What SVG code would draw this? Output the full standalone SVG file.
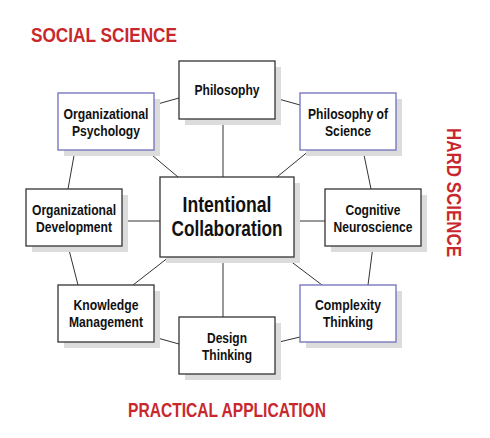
<svg xmlns="http://www.w3.org/2000/svg" width="490" height="438" viewBox="0 0 490 438">
<style>
.shadow{fill:#dcdcdc;stroke:none}
.box{fill:#ffffff;stroke:#333333;stroke-width:1.3}
.blue{fill:#ffffff;stroke:#7878c0;stroke-width:1.4}
.lbl{font-family:"Liberation Sans",Arial,sans-serif;font-weight:bold;font-size:15px;fill:#111111;text-anchor:middle}
.big{font-family:"Liberation Sans",Arial,sans-serif;font-weight:bold;font-size:22px;fill:#111111;text-anchor:middle}
.head{font-family:"Liberation Sans",Arial,sans-serif;font-weight:bold;font-size:21px;fill:#c8282d}
.conn line{stroke:#333333;stroke-width:1}
</style>
<rect width="490" height="438" fill="#ffffff"/>
<g id="connectors" class="conn">
<line x1="223" y1="119" x2="223" y2="177"/>
<line x1="223" y1="257" x2="223" y2="317"/>
<line x1="154" y1="105" x2="179" y2="98"/>
<line x1="275" y1="98" x2="300" y2="105"/>
<line x1="363" y1="150" x2="371" y2="189"/>
<line x1="310" y1="150" x2="277" y2="177"/>
<line x1="75" y1="150" x2="68" y2="189"/>
<line x1="146" y1="150" x2="178" y2="177"/>
<line x1="122" y1="221" x2="160" y2="221"/>
<line x1="294" y1="221" x2="325" y2="221"/>
<line x1="68" y1="246" x2="78" y2="285"/>
<line x1="169" y1="257" x2="133" y2="285"/>
<line x1="154" y1="337" x2="179" y2="344"/>
<line x1="373" y1="246" x2="368" y2="285"/>
<line x1="285" y1="257" x2="322" y2="285"/>
<line x1="275" y1="343" x2="300" y2="337"/>
</g>
<g id="center">
<rect class="shadow" x="166" y="183" width="134" height="80"/>
<rect class="box" x="160" y="177" width="134" height="80" stroke-width="1.5"/>
<text class="big" x="227" y="212" textLength="89" lengthAdjust="spacingAndGlyphs">Intentional</text>
<text class="big" x="227" y="236" textLength="111" lengthAdjust="spacingAndGlyphs">Collaboration</text>
</g>
<g id="philosophy">
<rect class="shadow" x="185" y="67" width="96" height="58"/>
<rect class="box" x="179" y="61" width="96" height="58"/>
<text class="lbl" x="227" y="95" textLength="65" lengthAdjust="spacingAndGlyphs">Philosophy</text>
</g>
<g id="org-psychology">
<rect class="shadow" x="64" y="99" width="96" height="57"/>
<rect class="blue" x="58" y="93" width="96" height="57"/>
<text class="lbl" x="106" y="119" textLength="85" lengthAdjust="spacingAndGlyphs">Organizational</text>
<text class="lbl" x="106" y="136" textLength="68" lengthAdjust="spacingAndGlyphs">Psychology</text>
</g>
<g id="philosophy-of-science">
<rect class="shadow" x="306" y="99" width="96" height="57"/>
<rect class="blue" x="300" y="93" width="96" height="57"/>
<text class="lbl" x="348" y="119" textLength="80" lengthAdjust="spacingAndGlyphs">Philosophy of</text>
<text class="lbl" x="348" y="136" textLength="46" lengthAdjust="spacingAndGlyphs">Science</text>
</g>
<g id="org-development">
<rect class="shadow" x="32" y="195" width="96" height="57"/>
<rect class="box" x="26" y="189" width="96" height="57"/>
<text class="lbl" x="74" y="215" textLength="84" lengthAdjust="spacingAndGlyphs">Organizational</text>
<text class="lbl" x="74" y="232" textLength="76" lengthAdjust="spacingAndGlyphs">Development</text>
</g>
<g id="cognitive-neuroscience">
<rect class="shadow" x="331" y="195" width="96" height="57"/>
<rect class="box" x="325" y="189" width="96" height="57"/>
<text class="lbl" x="373" y="215" textLength="55" lengthAdjust="spacingAndGlyphs">Cognitive</text>
<text class="lbl" x="373" y="232" textLength="79" lengthAdjust="spacingAndGlyphs">Neuroscience</text>
</g>
<g id="knowledge-management">
<rect class="shadow" x="64" y="291" width="96" height="57"/>
<rect class="box" x="58" y="285" width="96" height="57"/>
<text class="lbl" x="106" y="310" textLength="65" lengthAdjust="spacingAndGlyphs">Knowledge</text>
<text class="lbl" x="106" y="327" textLength="74" lengthAdjust="spacingAndGlyphs">Management</text>
</g>
<g id="complexity-thinking">
<rect class="shadow" x="306" y="291" width="96" height="57"/>
<rect class="blue" x="300" y="285" width="96" height="57"/>
<text class="lbl" x="348" y="310" textLength="66" lengthAdjust="spacingAndGlyphs">Complexity</text>
<text class="lbl" x="348" y="327" textLength="50" lengthAdjust="spacingAndGlyphs">Thinking</text>
</g>
<g id="design-thinking">
<rect class="shadow" x="185" y="323" width="96" height="57"/>
<rect class="box" x="179" y="317" width="96" height="57"/>
<text class="lbl" x="227" y="343" textLength="40" lengthAdjust="spacingAndGlyphs">Design</text>
<text class="lbl" x="227" y="360" textLength="50" lengthAdjust="spacingAndGlyphs">Thinking</text>
</g>
<g id="headings">
<text class="head" x="31" y="42" textLength="146" lengthAdjust="spacingAndGlyphs">SOCIAL SCIENCE</text>
<text class="head" x="128" y="417" font-size="20" textLength="198" lengthAdjust="spacingAndGlyphs">PRACTICAL APPLICATION</text>
<text class="head" transform="translate(447,128) rotate(90)" x="0" y="0" textLength="129" lengthAdjust="spacingAndGlyphs">HARD SCIENCE</text>
</g>
</svg>
